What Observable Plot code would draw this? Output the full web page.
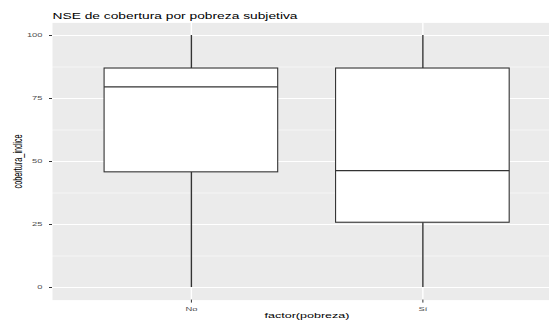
<!DOCTYPE html>
<html>
<head>
<meta charset="utf-8">
<script src="https://cdn.jsdelivr.net/npm/d3@7"></script>
<script src="https://cdn.jsdelivr.net/npm/@observablehq/plot@0.6"></script>
<style>
  html, body { margin: 0; padding: 0; background: white; }
</style>
</head>
<body>
<script>
// ---- data ----
const categories = ["No", "Sí"];
const categoryIndex = [1, 2];
const lowWhisker = [0, 0];
const q1 = [45.7, 25.7];
const median = [79.6, 46.4];
const q3 = [86.9, 86.9];
const highWhisker = [100, 100];
const yTicks = [0, 25, 50, 75, 100];
const yMinorTicks = [12.5, 37.5, 62.5, 87.5];
const titleText = "NSE de cobertura por pobreza subjetiva";
const xLabel = "factor(pobreza)";
const yLabel = "cobertura_indice";

const boxes = categories.map((c, i) => ({
  cat: c, x: categoryIndex[i], low: lowWhisker[i], q1: q1[i],
  median: median[i], q3: q3[i], high: highWhisker[i]
}));
const halfWidth = 0.375;
const ink = "#333333";

const plot = Plot.plot({
  width: 549,
  height: 322,
  marginLeft: 52,
  marginRight: 0,
  marginTop: 22.4,
  marginBottom: 22.4,
  style: { fontFamily: "'Liberation Sans', Arial, Helvetica, sans-serif", background: "white", overflow: "visible" },
  x: { domain: [0.4, 2.547], axis: null },
  y: { domain: [-5, 105], axis: null },
  marks: [
    Plot.frame({ fill: "#EBEBEB", stroke: null }),
    Plot.ruleY(yMinorTicks, { stroke: "white", strokeWidth: 0.55 }),
    Plot.ruleY(yTicks, { stroke: "white", strokeWidth: 1.1 }),
    Plot.ruleX(categoryIndex, { stroke: "white", strokeWidth: 1.4 }),
    Plot.ruleX(boxes, { x: "x", y1: "low", y2: "q1", stroke: ink, strokeWidth: 1.4 }),
    Plot.ruleX(boxes, { x: "x", y1: "q3", y2: "high", stroke: ink, strokeWidth: 1.4 }),
    Plot.rect(boxes, { x1: d => d.x - halfWidth, x2: d => d.x + halfWidth, y1: "q1", y2: "q3", fill: "white", stroke: ink, strokeWidth: 1.1 }),
    Plot.ruleY(boxes, { y: "median", x1: d => d.x - halfWidth, x2: d => d.x + halfWidth, stroke: ink, strokeWidth: 1.2 }),
    Plot.axisY(yTicks, { tickSize: 3, tickPadding: 7, fontSize: 5.85, fill: "#4D4D4D", stroke: ink, label: null }),
    Plot.axisX(categoryIndex, { tickSize: 3, tickPadding: 3.5, fontSize: 5.85, fill: "#4D4D4D", stroke: ink, label: null, tickFormat: i => categories[i - 1] }),
    Plot.text([titleText], { frameAnchor: "top-left", textAnchor: "start", lineAnchor: "bottom", dy: -4, fontSize: 8.8, fill: "black" }),
    Plot.text([xLabel], { frameAnchor: "bottom", textAnchor: "middle", lineAnchor: "middle", dx: 6, dy: 15.5, fontSize: 7.4, fill: "black" }),
    Plot.text([yLabel], { frameAnchor: "left", textAnchor: "middle", lineAnchor: "middle", dx: -34, rotate: -90, fontSize: 12, fill: "black" })
  ]
});

document.body.append(plot);

// mimic the horizontal stretch of the reference's text
plot.querySelectorAll("text").forEach(t => {
  const txt = t.textContent;
  const len = t.getComputedTextLength();
  let target;
  if (txt === yLabel) target = 54;
  else if (txt === titleText) target = 245;
  else if (txt === xLabel) target = 85;
  else target = len * 1.6;
  t.setAttribute("textLength", target);
  t.setAttribute("lengthAdjust", "spacingAndGlyphs");
});
</script>
</body>
</html>
